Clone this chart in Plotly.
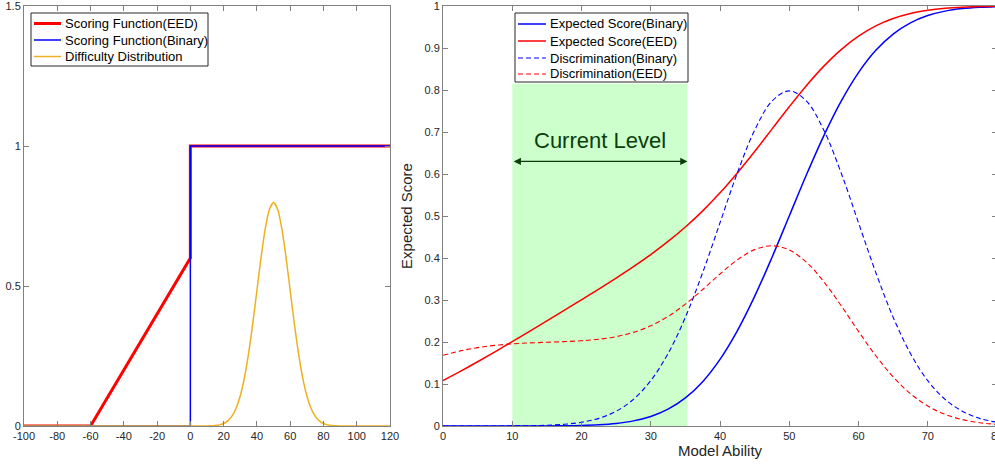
import plotly.graph_objects as go

# ---------------- Left panel data ----------------
eed_fx = [-100, -60, 0, 0, 120]
eed_fy = [0, 0, 0.6, 1, 1]
bin_fx = [-100, 0, 0, 120]
bin_fy = [0, 0, 1, 1]
diff_x = [-100, 10, 12.5, 15, 17.5, 20, 22.5, 25, 27.5, 30, 32.5, 35, 37.5, 40, 42.5, 45, 47.5,
          50, 52.5, 55, 57.5, 60, 62.5, 65, 67.5, 70, 72.5, 75, 77.5, 80, 82.5, 85, 87.5, 90, 120]
diff_y = [0, 0.00027, 0.00071, 0.00175, 0.00406, 0.00886, 0.01819, 0.03506, 0.06348, 0.10798,
          0.17255, 0.25904, 0.36530, 0.48394, 0.60227, 0.70413, 0.77334, 0.79788, 0.77334,
          0.70413, 0.60227, 0.48394, 0.36530, 0.25904, 0.17255, 0.10798, 0.06348, 0.03506,
          0.01819, 0.00886, 0.00406, 0.00175, 0.00071, 0.00027, 0]

# ---------------- Right panel data ----------------
ability = [0, 2.5, 5, 7.5, 10, 12.5, 15, 17.5, 20, 22.5, 25, 27.5, 30, 32.5, 35, 37.5, 40,
           42.5, 45, 47.5, 50, 52.5, 55, 57.5, 60, 62.5, 65, 67.5, 70, 72.5, 75, 77.5, 80]
score_binary = [0.0, 0.0, 0.0, 0.0, 0.00003, 0.00009, 0.00023, 0.00058, 0.00135, 0.00298,
                0.00621, 0.01222, 0.02275, 0.04006, 0.06681, 0.10565, 0.15866, 0.22663,
                0.30854, 0.40129, 0.5, 0.59871, 0.69146, 0.77337, 0.84135, 0.89435, 0.93319,
                0.95994, 0.97725, 0.98778, 0.99379, 0.99702, 0.99865]
score_eed = [0.10833, 0.13006, 0.15293, 0.17662, 0.20086, 0.22546, 0.25029, 0.27531, 0.30054,
             0.32612, 0.35229, 0.37947, 0.40825, 0.43941, 0.47379, 0.51220, 0.55513, 0.60253,
             0.65364, 0.70688, 0.76011, 0.81085, 0.85681, 0.89623, 0.92821, 0.95268, 0.97035,
             0.98236, 0.99005, 0.99469, 0.99732, 0.99872, 0.99942]
disc_binary = [0.0, 0.00001, 0.00003, 0.00009, 0.00027, 0.00071, 0.00175, 0.00406, 0.00886,
               0.01819, 0.03506, 0.06348, 0.10798, 0.17255, 0.25904, 0.36530, 0.48394, 0.60227,
               0.70413, 0.77334, 0.79788, 0.77334, 0.70413, 0.60227, 0.48394, 0.36530, 0.25904,
               0.17255, 0.10798, 0.06348, 0.03506, 0.01819, 0.00886]
disc_eed = [0.16827, 0.17887, 0.18664, 0.19199, 0.19555, 0.19782, 0.19941, 0.20091, 0.20301,
            0.20656, 0.21273, 0.22293, 0.23864, 0.26101, 0.29025, 0.32499, 0.36185, 0.39558,
            0.41994, 0.42908, 0.41915, 0.38959, 0.34336, 0.28624, 0.22531, 0.16725, 0.11698,
            0.07703, 0.04774, 0.02784, 0.01526, 0.00787, 0.00382]

level_start, level_end, level_top, arrow_y = 10, 35.3, 0.815, 0.63

left_xticks = [-100, -80, -60, -40, -20, 0, 20, 40, 60, 80, 100, 120]
left_xlabels = ["-100", "-80", "-60", "-40", "-20", "0", "20", "40", "60", "80", "100", "120"]
left_yticks = [0, 0.5, 1, 1.5]
left_ylabels = ["0", "0.5", "1", "1.5"]
right_xticks = [0, 10, 20, 30, 40, 50, 60, 70, 80]
right_xlabels = ["0", "10", "20", "30", "40", "50", "60", "70", "80"]
right_yticks = [0, 0.1, 0.2, 0.3, 0.4, 0.5, 0.6, 0.7, 0.8, 0.9, 1]
right_ylabels = ["0", "0.1", "0.2", "0.3", "0.4", "0.5", "0.6", "0.7", "0.8", "0.9", "1"]

RED = "#ff0000"
BLUE = "#0000ff"
ORANGE = "#edb120"
FONT = "Liberation Sans, Arial, sans-serif"

# (name, color, width, dash)
left_legend = [("Scoring Function(EED)", RED, 3, "solid"),
               ("Scoring Function(Binary)", BLUE, 1.5, "solid"),
               ("Difficulty Distribution", ORANGE, 1.5, "solid")]
right_legend = [("Expected Score(Binary)", BLUE, 1.5, "solid"),
                ("Expected Score(EED)", RED, 1.5, "solid"),
                ("Discrimination(Binary)", BLUE, 1, "5px,3px"),
                ("Discrimination(EED)", RED, 1, "5px,3px")]

fig = go.Figure()

fig.add_trace(go.Scatter(x=eed_fx, y=eed_fy, mode="lines", name=left_legend[0][0],
                         line=dict(color=RED, width=3), xaxis="x", yaxis="y"))
fig.add_trace(go.Scatter(x=bin_fx, y=bin_fy, mode="lines", name=left_legend[1][0],
                         line=dict(color=BLUE, width=1.5), xaxis="x", yaxis="y"))
fig.add_trace(go.Scatter(x=diff_x, y=diff_y, mode="lines", name=left_legend[2][0],
                         line=dict(color=ORANGE, width=1.5, shape="spline", smoothing=0.6),
                         xaxis="x", yaxis="y"))

fig.add_trace(go.Scatter(x=ability, y=score_binary, mode="lines", name=right_legend[0][0],
                         line=dict(color=BLUE, width=1.5, shape="spline"), xaxis="x2", yaxis="y2"))
fig.add_trace(go.Scatter(x=ability, y=score_eed, mode="lines", name=right_legend[1][0],
                         line=dict(color=RED, width=1.5, shape="spline"), xaxis="x2", yaxis="y2"))
fig.add_trace(go.Scatter(x=ability, y=disc_binary, mode="lines", name=right_legend[2][0],
                         line=dict(color=BLUE, width=1.1, dash="5px,3px", shape="spline"),
                         xaxis="x2", yaxis="y2"))
fig.add_trace(go.Scatter(x=ability, y=disc_eed, mode="lines", name=right_legend[3][0],
                         line=dict(color=RED, width=1.1, dash="5px,3px", shape="spline"),
                         xaxis="x2", yaxis="y2"))

fig.add_shape(type="rect", xref="x2", yref="y2", x0=level_start, x1=level_end, y0=0,
              y1=level_top, fillcolor="#ccffcc", line=dict(width=0), layer="below")

fig.add_annotation(xref="x2", yref="y2", x=level_end, y=arrow_y, ax=level_start, ay=arrow_y,
                   axref="x2", ayref="y2", text="", showarrow=True, arrowside="end+start",
                   arrowhead=2, arrowsize=1.2, arrowwidth=1.2, arrowcolor="#0b3d0b")
fig.add_annotation(xref="x2", yref="y2", x=(level_start + level_end) / 2, y=0.68,
                   text="Current Level", showarrow=False,
                   font=dict(size=22, color="#0b3d0b", family=FONT))

# ---------------- layout geometry (pixels) ----------------
L, T, B = 24, 6, 39
W, H = 997, 465   # slightly wider than the window: right spine falls just off-screen
pw = W - L
ph = H - T - B


def px(xp):
    return (xp - L) / pw


def py(yp):
    return (H - B - yp) / ph


left_dom = [0, px(390)]
right_dom = [px(443), 1.0]


def add_legend(items, box, line_x0, line_x1, text_x, row_y):
    x0, y0, x1, y1 = box
    fig.add_shape(type="rect", xref="paper", yref="paper", x0=px(x0), x1=px(x1),
                  y0=py(y1), y1=py(y0), fillcolor="white",
                  line=dict(color="#262626", width=1), layer="above")
    for (name, color, width, dash), ry in zip(items, row_y):
        fig.add_shape(type="line", xref="paper", yref="paper", x0=px(line_x0), x1=px(line_x1),
                      y0=py(ry), y1=py(ry), line=dict(color=color, width=width, dash=dash),
                      layer="above")
        fig.add_annotation(xref="paper", yref="paper", x=px(text_x), y=py(ry), text=name,
                           showarrow=False, xanchor="left", yanchor="middle",
                           font=dict(size=13, family=FONT, color="#000000"))


add_legend(left_legend, (31, 13, 208, 66), 34, 61, 63, [23.5, 40, 56.5])
add_legend(right_legend, (515, 13, 688, 82), 518, 546, 548, [24, 41, 58, 74])

axis_common = dict(showgrid=False, zeroline=False, showline=True, mirror="ticks",
                   ticks="inside", ticklen=5, tickcolor="#808080", linecolor="#808080",
                   linewidth=1, ticklabeloverflow="allow", automargin=False,
                   tickfont=dict(size=11, color="#262626", family=FONT))

fig.update_layout(
    width=W, height=H,
    margin=dict(l=L, r=0, t=T, b=B),
    paper_bgcolor="white", plot_bgcolor="white",
    font=dict(family=FONT, color="#262626"),
    showlegend=False,
    xaxis=dict(domain=left_dom, range=[-100, 120], tickvals=left_xticks, ticktext=left_xlabels,
               anchor="y", **axis_common),
    yaxis=dict(domain=[0, 1], range=[0, 1.5], tickvals=left_yticks, ticktext=left_ylabels,
               anchor="x", **axis_common),
    xaxis2=dict(domain=right_dom, range=[0, 80], tickvals=right_xticks, ticktext=right_xlabels,
                anchor="y2",
                title=dict(text="Model Ability", font=dict(size=15, family=FONT, color="#262626"),
                           standoff=4),
                **axis_common),
    yaxis2=dict(domain=[0, 1], range=[0, 1], tickvals=right_yticks, ticktext=right_ylabels,
                anchor="x2",
                title=dict(text="Expected Score", font=dict(size=15, family=FONT, color="#262626"),
                           standoff=8),
                **axis_common),
)

fig.write_html("out.html", config={"displayModeBar": False},
               post_script="document.body.style.margin='0';"
                           "document.body.style.overflow='hidden';")
